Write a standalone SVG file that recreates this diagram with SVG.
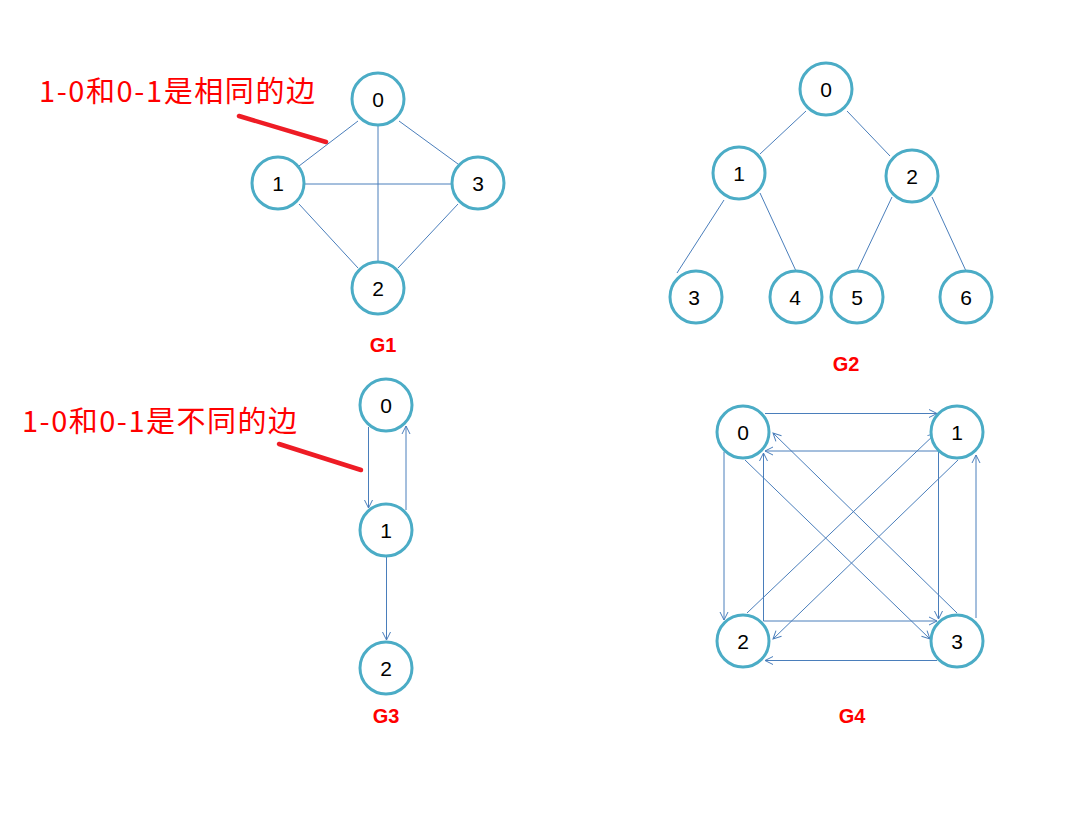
<svg xmlns="http://www.w3.org/2000/svg" width="1069" height="821" viewBox="0 0 1069 821">
<defs>
<marker id="arr" markerUnits="userSpaceOnUse" markerWidth="10" markerHeight="10" refX="8" refY="4" orient="auto" viewBox="0 0 10 8" overflow="visible">
<path d="M0,0 L8,4 L0,8" fill="none" stroke="#4a7ebb" stroke-width="1"/>
</marker>
<style>
.node circle{fill:#fff;stroke:#4bacc6;stroke-width:3}
.node text{font-family:"Liberation Sans","Noto Sans",sans-serif;font-size:21px;fill:#000;text-anchor:middle}
.e line{stroke:#4a7ebb;stroke-width:1;fill:none}
.d line{marker-end:url(#arr)}
.gl{font-family:"Liberation Sans",Arial,sans-serif;font-weight:bold;font-size:20px;fill:#ff0000;text-anchor:middle}
.ann{font-family:"Noto Sans CJK SC","Noto Sans",sans-serif;font-size:29px;fill:#ff0000}
.ptr{stroke:#ee1c25;stroke-width:4.5;stroke-linecap:round}
</style>
</defs>
<rect width="1069" height="821" fill="#fff"/>

<!-- annotations -->
<text class="ann" x="39" y="102" textLength="276" lengthAdjust="spacing">1-0和0-1是相同的边</text>
<line class="ptr" x1="239" y1="116" x2="326" y2="142"/>
<text class="ann" x="22" y="432" textLength="275" lengthAdjust="spacing">1-0和0-1是不同的边</text>
<line class="ptr" x1="279" y1="444" x2="361" y2="470"/>

<!-- connectors -->
<g id="connectors">
<g class="e" id="g1-edges">
<line x1="358" y1="121" x2="299" y2="166"/>
<line x1="399" y1="121" x2="458" y2="164"/>
<line x1="378" y1="125" x2="378" y2="262"/>
<line x1="305" y1="184" x2="452" y2="184"/>
<line x1="299" y1="204" x2="358" y2="268"/>
<line x1="458" y1="204" x2="398" y2="268"/>
</g>
<g class="e" id="g2-edges">
<line x1="806" y1="111" x2="760" y2="154"/>
<line x1="847" y1="111" x2="890" y2="156"/>
<line x1="724" y1="200" x2="677" y2="273"/>
<line x1="760" y1="193" x2="796" y2="271"/>
<line x1="892" y1="197" x2="857" y2="271"/>
<line x1="932" y1="197" x2="966" y2="271"/>
</g>
<g class="e d" id="g3-edges">
<line x1="368.5" y1="427" x2="368.5" y2="508"/>
<line x1="406" y1="510" x2="406" y2="426"/>
<line x1="386.5" y1="557" x2="386.5" y2="640"/>
</g>
<g class="e d" id="g4-edges">
<line x1="765" y1="413.5" x2="937" y2="413.5"/>
<line x1="724" y1="452" x2="724" y2="620"/>
<line x1="976" y1="618" x2="976" y2="455"/>
<line x1="937" y1="660.5" x2="765" y2="660.5"/>
<line x1="938.5" y1="451" x2="765" y2="451"/>
<line x1="763.5" y1="621" x2="763.5" y2="453"/>
<line x1="938.5" y1="451" x2="938.5" y2="619"/>
<line x1="763.5" y1="621" x2="937" y2="621"/>
<line x1="745" y1="460" x2="930" y2="639"/>
<line x1="957" y1="613" x2="773" y2="433"/>
<line x1="747" y1="613" x2="936" y2="433"/>
<line x1="958" y1="460" x2="773" y2="639"/>
</g>
</g>

<!-- G1 -->
<g id="g1-n0" class="node"><circle cx="378" cy="99" r="26"/><text x="378" y="107">0</text></g>
<g id="g1-n1" class="node"><circle cx="278" cy="183" r="26"/><text x="278" y="191">1</text></g>
<g id="g1-n3" class="node"><circle cx="478" cy="183" r="26"/><text x="478" y="191">3</text></g>
<g id="g1-n2" class="node"><circle cx="378" cy="288" r="26"/><text x="378" y="296">2</text></g>
<text class="gl" x="383" y="352">G1</text>

<!-- G2 -->
<g id="g2-n0" class="node"><circle cx="826" cy="89" r="26"/><text x="826" y="97">0</text></g>
<g id="g2-n1" class="node"><circle cx="739" cy="173" r="26"/><text x="739" y="181">1</text></g>
<g id="g2-n2" class="node"><circle cx="912" cy="176" r="26"/><text x="912" y="184">2</text></g>
<g id="g2-n3" class="node"><circle cx="696" cy="297" r="26"/><text x="694" y="305">3</text></g>
<g id="g2-n4" class="node"><circle cx="796" cy="297" r="26"/><text x="795" y="305">4</text></g>
<g id="g2-n5" class="node"><circle cx="857" cy="297" r="26"/><text x="857" y="305">5</text></g>
<g id="g2-n6" class="node"><circle cx="966" cy="297" r="26"/><text x="966" y="305">6</text></g>
<text class="gl" x="846" y="371">G2</text>

<!-- G3 -->
<g id="g3-n0" class="node"><circle cx="386" cy="405" r="26"/><text x="386" y="413">0</text></g>
<g id="g3-n1" class="node"><circle cx="386" cy="530" r="26"/><text x="386" y="538">1</text></g>
<g id="g3-n2" class="node"><circle cx="386" cy="668" r="26"/><text x="386" y="676">2</text></g>
<text class="gl" x="386" y="723">G3</text>

<!-- G4 -->
<g id="g4-n0" class="node"><circle cx="743" cy="432" r="26"/><text x="743" y="440">0</text></g>
<g id="g4-n1" class="node"><circle cx="957" cy="432" r="26"/><text x="957" y="440">1</text></g>
<g id="g4-n2" class="node"><circle cx="743" cy="641" r="26"/><text x="743" y="649">2</text></g>
<g id="g4-n3" class="node"><circle cx="957" cy="641" r="26"/><text x="957" y="649">3</text></g>
<text class="gl" x="852" y="723">G4</text>
</svg>
